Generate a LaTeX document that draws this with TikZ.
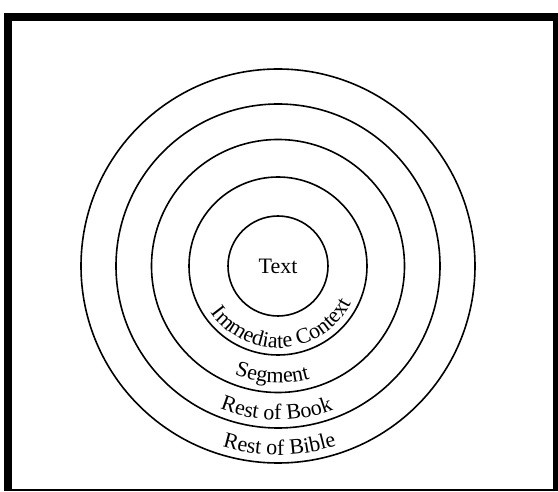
\documentclass[tikz,border=0pt]{standalone}
\usepackage{fontspec}
\setmainfont{Liberation Serif}
\usetikzlibrary{decorations.text}
\newcommand\lblfont{\fontsize{22}{26}\selectfont}
\begin{document}
\begin{tikzpicture}[x=1pt,y=1pt,
  ring/.style={draw, circle, line width=1.6pt, inner sep=0pt},
  arclabel/.style={decorate, decoration={text along path, text align=center, text={|\lblfont|#1}}}]
\useasboundingbox (0,0) rectangle (558,491);
\fill[white] (0,0) rectangle (558,491);
% frame
\fill[black] (4,0) rectangle (12,478);
\fill[black] (4,470) rectangle (558,478);
\fill[black] (553,0) rectangle (558,478);
\fill[black] (4,0) rectangle (558,2);
% rings
\coordinate (C) at (278,225);
\node[ring, minimum size=394pt] (bible) at (C) {};
\node[ring, minimum size=324pt] (book) at (C) {};
\node[ring, minimum size=253pt] (segment) at (C) {};
\node[ring, minimum size=178pt] (context) at (C) {};
\node[ring, minimum size=100pt, font=\lblfont] (text) at (C) {Text};
% curved labels
\path[arclabel={Immediate Context}] ([shift={(184:82)}]C) arc[start angle=184, end angle=364, radius=82];
\path[arclabel={Segment}] ([shift={(177:117)}]C) arc[start angle=177, end angle=357, radius=117];
\path[arclabel={Rest of Book}] ([shift={(179.5:154)}]C) arc[start angle=179.5, end angle=359.5, radius=154];
\path[arclabel={Rest of Bible}] ([shift={(180.5:189)}]C) arc[start angle=180.5, end angle=360.5, radius=189];
\end{tikzpicture}
\end{document}
